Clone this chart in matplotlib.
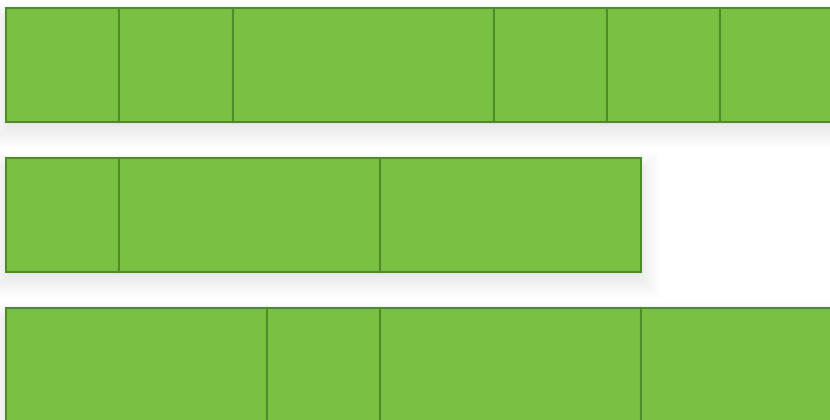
import numpy as np
import matplotlib.pyplot as plt

# segment widths per row (left to right)
row1 = [3, 3, 6.9, 3, 3, 3]
row2 = [3, 6.9, 6.9]
row3 = [6.9, 3, 6.9, 6.9]
rows = [row1, row2, row3]

fill = '#7ac143'
edge = '#4f8a2b'

fig = plt.figure(figsize=(8.3, 4.2), dpi=100)
ax = fig.add_axes([0, 0, 1, 1])

px_x = 37.8   # pixels per x unit
px_y = 150.0  # pixels per row
h = 114 / px_y

# soft drop shadow under each row
for i, r in enumerate(rows):
    total = sum(r)
    for k in range(22):
        g = k * 1.1
        ax.barh(i + 10 / px_y, total + (2 * g - 8) / px_x, left=(-g + 4) / px_x,
                height=h + (2 * g - 14) / px_y, color='black', alpha=0.0055,
                linewidth=0, zorder=1)

for i, r in enumerate(rows):
    lefts = np.concatenate([[0], np.cumsum(r)[:-1]])
    ax.barh([i] * len(r), r, left=lefts, height=h, color=fill,
            edgecolor=edge, linewidth=1.5, zorder=2)

ax.set_xlim(-6 / px_x, 824 / px_x)
ax.set_ylim((420 - 65) / px_y, -65 / px_y)
ax.axis('off')

fig.savefig('out.png', dpi=100)
